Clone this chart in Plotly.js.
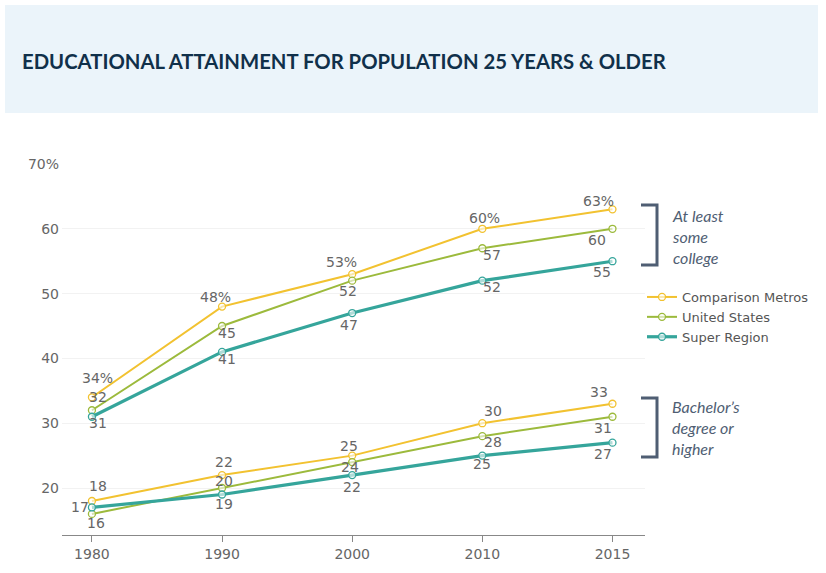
<!DOCTYPE html>
<html>
<head>
<meta charset="utf-8">
<script src="https://cdn.plot.ly/plotly-3.0.1.min.js"></script>
<style>html,body{margin:0;padding:0;background:#fff;}#chart{width:826px;height:573px;}</style>
</head>
<body>
<div id="chart"></div>
<script>
// ---- data ----
const years = ["1980", "1990", "2000", "2010", "2015"];
const seriesNames = ["Comparison Metros", "United States", "Super Region"];

const metrosSomeCollege = [34, 48, 53, 60, 63];
const usSomeCollege = [32, 45, 52, 57, 60];
const superSomeCollege = [31, 41, 47, 52, 55];

const metrosBachelor = [18, 22, 25, 30, 33];
const usBachelor = [16, 20, 24, 28, 31];
const superBachelor = [17, 19, 22, 25, 27];

const yTickVals = [20, 30, 40, 50, 60, 70];
const yTickText = ["20", "30", "40", "50", "60", "70%"];

const groupLabels = ["At least<br>some<br>college", "Bachelor’s<br>degree or<br>higher"];
const chartTitle = "EDUCATIONAL ATTAINMENT FOR POPULATION 25 YEARS &amp; OLDER";

// ---- styles ----
const colors = ["#f2c230", "#9cba3c", "#35a59b"];
const widths = [2, 2, 3.2];
const labelFont = {family: "DejaVu Sans, Verdana, sans-serif", size: 14, color: "#666"};

// label offsets in pixels [dx, dy(up positive)] per point (styling only)
const offsets = {
  metrosSome: [[6, 19], [-7, 10], [-11, 12], [2, 11], [-14, 8]],
  usSome:     [[6, 13], [5, -7], [-4, -10], [10, -7], [-15, -11]],
  superSome:  [[6, -6], [5, -7], [-3, -12], [10, -6], [-10, -11]],
  metrosBach: [[6, 15], [2, 13], [-3, 10], [11, 12], [-13, 12]],
  usBach:     [[4, -9], [2, 7], [-2, -5], [11, -6], [-9, -11]],
  superBach:  [[-12, 0], [2, -9], [0, -12], [0, -8], [-9, -11]]
};

function trace(x, y, idx, showlegend) {
  return {
    type: "scatter", mode: "lines+markers",
    x: x, y: y, name: seriesNames[idx], legendgroup: seriesNames[idx],
    showlegend: showlegend,
    line: {color: colors[idx], width: widths[idx]},
    marker: {symbol: "circle", size: 7, color: "rgba(255,255,255,0.6)", line: {color: colors[idx], width: 1.3}},
    hoverinfo: "x+y", cliponaxis: false
  };
}

// category axis: annotation x is the category's serial index
function labels(values, offs, suffix) {
  return values.map((v, i) => ({
    x: years.indexOf(years[i]), y: v, xref: "x", yref: "y", showarrow: false,
    text: String(v) + (suffix || ""), xshift: offs[i][0], yshift: offs[i][1],
    font: labelFont, xanchor: "center", yanchor: "middle"
  }));
}

const data = [
  trace(years, metrosSomeCollege, 0, true),
  trace(years, usSomeCollege, 1, true),
  trace(years, superSomeCollege, 2, true),
  trace(years, metrosBachelor, 0, false),
  trace(years, usBachelor, 1, false),
  trace(years, superBachelor, 2, false)
];

// pixel helpers (plot area: left 62, right 645, top 164, bottom 535)
const L = 62, R = 645, T = 164, B = 535;
const px = x => (x - L) / (R - L);
const py = y => (B - y) / (B - T);
const bracketColor = "#4f5e73";

function bracket(y0, y1) {
  return {type: "path", xref: "paper", yref: "paper",
    path: `M ${px(641)} ${py(y0)} L ${px(657)} ${py(y0)} L ${px(657)} ${py(y1)} L ${px(641)} ${py(y1)}`,
    line: {color: bracketColor, width: 3}};
}

const annotations = [].concat(
  labels(metrosSomeCollege, offsets.metrosSome, "%"),
  labels(usSomeCollege, offsets.usSome),
  labels(superSomeCollege, offsets.superSome),
  labels(metrosBachelor, offsets.metrosBach),
  labels(usBachelor, offsets.usBach),
  labels(superBachelor, offsets.superBach),
  [
    {xref: "paper", yref: "paper", x: px(670), y: py(236), xanchor: "left", yanchor: "middle",
     align: "left", showarrow: false, text: "<i>" + groupLabels[0] + "</i>",
     font: {family: "Lato, sans-serif", size: 16, color: "#4f5e73"}},
    {xref: "paper", yref: "paper", x: px(670), y: py(427), xanchor: "left", yanchor: "middle",
     align: "left", showarrow: false, text: "<i>" + groupLabels[1] + "</i>",
     font: {family: "Lato, sans-serif", size: 16, color: "#4f5e73"}}
  ]
);

const layout = {
  width: 826, height: 573,
  margin: {l: L, r: 826 - R, t: T, b: 573 - B},
  paper_bgcolor: "#ffffff", plot_bgcolor: "#ffffff",
  font: {family: "DejaVu Sans, Verdana, sans-serif", color: "#666"},
  title: {text: "<b>" + chartTitle + "</b>", xref: "container", yref: "container",
          x: 22 / 826, xanchor: "left", y: 1 - 62 / 573, yanchor: "middle",
          font: {family: "Lato, sans-serif", size: 20.3, color: "#10304a"}},
  xaxis: {type: "category", range: [-0.23, 4.25], showgrid: false, zeroline: false,
          showline: true, linecolor: "#888", linewidth: 1.2, ticks: "outside", ticklen: 6,
          tickcolor: "#888", tickfont: labelFont, fixedrange: true},
  yaxis: {range: [12.75, 70], tickvals: yTickVals, ticktext: yTickText, showgrid: true,
          gridcolor: "#f2f2f2", gridwidth: 1, zeroline: false, showline: false,
          tickfont: labelFont, ticklabelstandoff: 2, fixedrange: true},
  showlegend: true,
  legend: {x: px(642), y: py(282), xanchor: "left", yanchor: "top",
           font: {family: "DejaVu Sans, Verdana, sans-serif", size: 13, color: "#555"},
           tracegroupgap: 0, itemwidth: 30, bgcolor: "rgba(0,0,0,0)"},
  shapes: [
    {type: "rect", xref: "paper", yref: "paper", layer: "below",
     x0: px(5), x1: px(818), y0: py(113), y1: py(5), fillcolor: "#ebf4fa", line: {width: 0}},
    bracket(205, 265),
    bracket(398, 457)
  ],
  annotations: annotations
};

Plotly.newPlot("chart", data, layout, {displayModeBar: false, responsive: false});
</script>
</body>
</html>
